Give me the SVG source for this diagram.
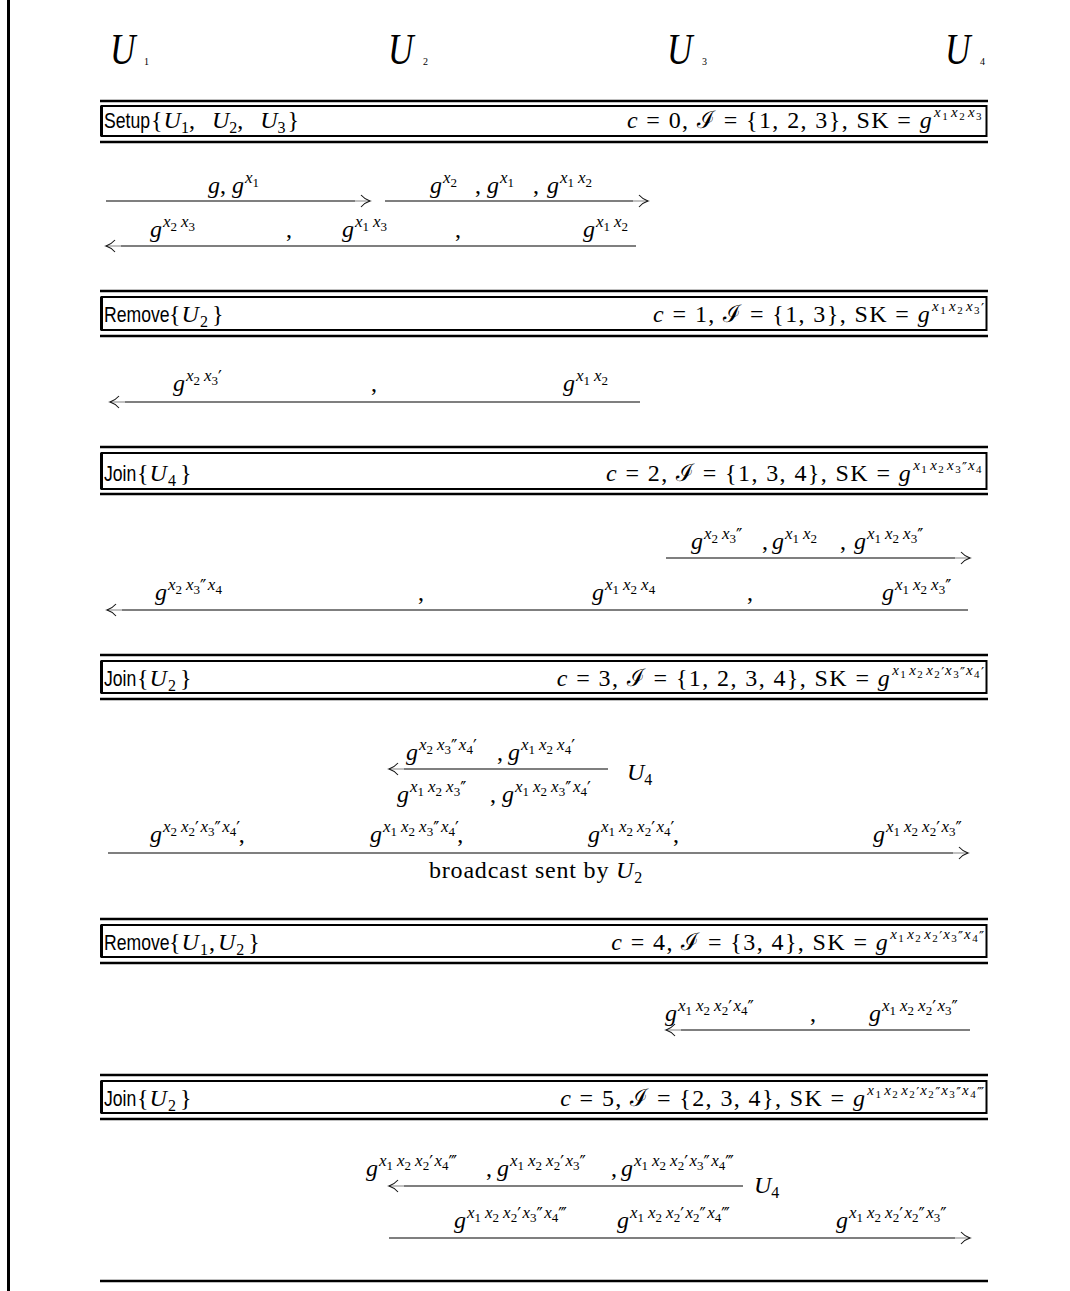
<svg xmlns="http://www.w3.org/2000/svg" width="1070" height="1291" viewBox="0 0 1070 1291">
<style>
.t{font-family:"Liberation Serif","Times New Roman",serif;font-size:24px;font-style:italic;fill:#000}
.r{font-style:normal}
.x{font-size:17px;font-style:italic}
.n{font-size:13px;font-style:normal}
.q{font-size:17px;font-style:normal;font-family:"DejaVu Sans",sans-serif;letter-spacing:-1.5px}
.bx{font-size:15px;font-style:italic}
.bn{font-size:11px;font-style:normal}
.bq{font-size:14px;font-style:normal;font-family:"DejaVu Sans",sans-serif;letter-spacing:-1.2px}
.s16{font-size:16px;font-style:normal}
.sans{font-family:"Liberation Sans",Arial,sans-serif;font-size:22px;fill:#000}
.cal{font-family:"DejaVu Serif",serif;font-style:normal}
.rt{letter-spacing:1.4px}
.lt{letter-spacing:1px}
.rule{stroke:#000;stroke-width:2.5}
.box{fill:none;stroke:#000;stroke-width:2}
.msg{stroke:#000;stroke-width:1.2;fill:none;marker-end:url(#ah)}
</style>
<defs>
<marker id="ah" markerUnits="userSpaceOnUse" markerWidth="20" markerHeight="20" refX="0" refY="0" orient="auto" overflow="visible">
<path d="M-15 0H0" stroke="#fff" stroke-width="1.8"/>
<path d="M-15 0H0" stroke="#999" stroke-width="1.1"/>
<path d="M-9 -6Q-5 -1.5 0 0Q-5 1.5 -9 6" fill="none" stroke="#111" stroke-width="1.1"/>
</marker>
</defs>
<rect width="1070" height="1291" fill="#fff"/>
<line x1="8.5" y1="0" x2="8.5" y2="1291" stroke="#000" stroke-width="3"/>

<g id="U1"><text class="t" transform="matrix(0.8 0 0 1 110 64)" style="font-size:44px">U</text><text class="t r" x="144" y="65" style="font-size:10px">1</text></g>
<g id="U2"><text class="t" transform="matrix(0.8 0 0 1 388 64)" style="font-size:44px">U</text><text class="t r" x="423" y="65" style="font-size:10px">2</text></g>
<g id="U3"><text class="t" transform="matrix(0.8 0 0 1 667 64)" style="font-size:44px">U</text><text class="t r" x="702" y="65" style="font-size:10px">3</text></g>
<g id="U4"><text class="t" transform="matrix(0.8 0 0 1 945 64)" style="font-size:44px">U</text><text class="t r" x="980" y="65" style="font-size:10px">4</text></g>

<g id="setup">
<line class="rule" x1="100" y1="101" x2="988" y2="101"/>
<rect class="box" x="101.5" y="106" width="885" height="30"/>
<line x1="101.5" y1="106" x2="101.5" y2="136" stroke="#000" stroke-width="3"/>
<line class="rule" x1="100" y1="142" x2="988" y2="142"/>
<text class="sans" transform="matrix(0.8 0 0 1 104 128)">Setup</text>
<text class="t" x="151" y="128"><tspan class="r">{</tspan><tspan dx="1">U</tspan><tspan class="s16" dy="5">1</tspan><tspan class="r" dy="-5">, </tspan><tspan dx="11">U</tspan><tspan class="s16" dy="5">2</tspan><tspan class="r" dy="-5">, </tspan><tspan dx="11">U</tspan><tspan class="s16" dy="5">3</tspan><tspan class="r" dy="-5" dx="2">}</tspan></text>
<text class="t rt" text-anchor="end" x="983" y="128">c<tspan class="r"> = 0, </tspan><tspan class="cal">ℐ</tspan><tspan class="r"> = {1, 2, 3}, SK = </tspan>g<tspan class="bx" dx="1" dy="-11">x</tspan><tspan class="bn" dy="3">1</tspan><tspan class="bx" dx="2" dy="-3">x</tspan><tspan class="bn" dy="3">2</tspan><tspan class="bx" dx="2" dy="-3">x</tspan><tspan class="bn" dy="3">3</tspan></text>
</g>

<g id="setup-msgs">
<text class="t" x="208" y="193">g<tspan class="r">, </tspan>g<tspan class="x" dx="1" dy="-10">x</tspan><tspan class="n" dy="4">1</tspan></text>
<text class="t" x="430" y="193">g<tspan class="x" dx="1" dy="-10">x</tspan><tspan class="n" dy="4">2</tspan></text>
<text class="t r" x="475" y="193">,</text>
<text class="t" x="487" y="193">g<tspan class="x" dx="1" dy="-10">x</tspan><tspan class="n" dy="4">1</tspan></text>
<text class="t r" x="533" y="193">,</text>
<text class="t" x="547" y="193">g<tspan class="x" dx="1" dy="-10">x</tspan><tspan class="n" dy="4">1</tspan><tspan class="x" dx="4" dy="-4">x</tspan><tspan class="n" dy="4">2</tspan></text>
<text class="t" x="150" y="237">g<tspan class="x" dx="1" dy="-10">x</tspan><tspan class="n" dy="4">2</tspan><tspan class="x" dx="4" dy="-4">x</tspan><tspan class="n" dy="4">3</tspan></text>
<text class="t r" x="286" y="237">,</text>
<text class="t" x="342" y="237">g<tspan class="x" dx="1" dy="-10">x</tspan><tspan class="n" dy="4">1</tspan><tspan class="x" dx="4" dy="-4">x</tspan><tspan class="n" dy="4">3</tspan></text>
<text class="t r" x="455" y="237">,</text>
<text class="t" x="583" y="237">g<tspan class="x" dx="1" dy="-10">x</tspan><tspan class="n" dy="4">1</tspan><tspan class="x" dx="4" dy="-4">x</tspan><tspan class="n" dy="4">2</tspan></text>
</g>

<g id="remove-u2">
<line class="rule" x1="100" y1="291" x2="988" y2="291"/>
<rect class="box" x="101.5" y="297" width="885" height="33"/>
<line x1="101.5" y1="297" x2="101.5" y2="330" stroke="#000" stroke-width="3"/>
<line class="rule" x1="100" y1="336" x2="988" y2="336"/>
<text class="sans" transform="matrix(0.8 0 0 1 104 322)">Remove</text>
<text class="t lt" x="169" y="322"><tspan class="r">{</tspan>U<tspan class="s16" dy="5">2</tspan><tspan class="r" dy="-5" dx="3">}</tspan></text>
<text class="t rt" text-anchor="end" x="983" y="322">c<tspan class="r"> = 1, </tspan><tspan class="cal">ℐ</tspan><tspan class="r"> = {1, 3}, SK = </tspan>g<tspan class="bx" dx="1" dy="-11">x</tspan><tspan class="bn" dy="3">1</tspan><tspan class="bx" dx="2" dy="-3">x</tspan><tspan class="bn" dy="3">2</tspan><tspan class="bx" dx="2" dy="-3">x</tspan><tspan class="bn" dy="3">3</tspan><tspan class="bq" dy="-1">′</tspan></text>
</g>

<g id="remove-msgs">
<text class="t" x="173" y="391">g<tspan class="x" dx="1" dy="-10">x</tspan><tspan class="n" dy="4">2</tspan><tspan class="x" dx="4" dy="-4">x</tspan><tspan class="n" dy="4">3</tspan><tspan class="q" dy="-2">′</tspan></text>
<text class="t r" x="371" y="391">,</text>
<text class="t" x="563" y="391">g<tspan class="x" dx="1" dy="-10">x</tspan><tspan class="n" dy="4">1</tspan><tspan class="x" dx="4" dy="-4">x</tspan><tspan class="n" dy="4">2</tspan></text>
</g>

<g id="join-u4">
<line class="rule" x1="100" y1="447" x2="988" y2="447"/>
<rect class="box" x="101.5" y="453" width="885" height="36"/>
<line x1="101.5" y1="453" x2="101.5" y2="489" stroke="#000" stroke-width="3"/>
<line class="rule" x1="100" y1="494" x2="988" y2="494"/>
<text class="sans" transform="matrix(0.8 0 0 1 104 481)">Join</text>
<text class="t lt" x="137" y="481"><tspan class="r">{</tspan>U<tspan class="s16" dy="5">4</tspan><tspan class="r" dy="-5" dx="3">}</tspan></text>
<text class="t rt" text-anchor="end" x="983" y="481">c<tspan class="r"> = 2, </tspan><tspan class="cal">ℐ</tspan><tspan class="r"> = {1, 3, 4}, SK = </tspan>g<tspan class="bx" dx="1" dy="-11">x</tspan><tspan class="bn" dy="3">1</tspan><tspan class="bx" dx="2" dy="-3">x</tspan><tspan class="bn" dy="3">2</tspan><tspan class="bx" dx="2" dy="-3">x</tspan><tspan class="bn" dy="3">3</tspan><tspan class="bq" dy="-1">′′</tspan><tspan class="bx" dx="2" dy="-2">x</tspan><tspan class="bn" dy="3">4</tspan></text>
</g>

<g id="join-u4-msgs">
<text class="t" x="691" y="549">g<tspan class="x" dx="1" dy="-10">x</tspan><tspan class="n" dy="4">2</tspan><tspan class="x" dx="4" dy="-4">x</tspan><tspan class="n" dy="4">3</tspan><tspan class="q" dy="-2">′′</tspan></text>
<text class="t r" x="762" y="549">,</text>
<text class="t" x="772" y="549">g<tspan class="x" dx="1" dy="-10">x</tspan><tspan class="n" dy="4">1</tspan><tspan class="x" dx="4" dy="-4">x</tspan><tspan class="n" dy="4">2</tspan></text>
<text class="t r" x="840" y="549">,</text>
<text class="t" x="854" y="549">g<tspan class="x" dx="1" dy="-10">x</tspan><tspan class="n" dy="4">1</tspan><tspan class="x" dx="4" dy="-4">x</tspan><tspan class="n" dy="4">2</tspan><tspan class="x" dx="4" dy="-4">x</tspan><tspan class="n" dy="4">3</tspan><tspan class="q" dy="-2">′′</tspan></text>
<text class="t" x="155" y="600">g<tspan class="x" dx="1" dy="-10">x</tspan><tspan class="n" dy="4">2</tspan><tspan class="x" dx="4" dy="-4">x</tspan><tspan class="n" dy="4">3</tspan><tspan class="q" dy="-2">′′</tspan><tspan class="x" dx="3" dy="-2">x</tspan><tspan class="n" dy="4">4</tspan></text>
<text class="t r" x="418" y="600">,</text>
<text class="t" x="592" y="600">g<tspan class="x" dx="1" dy="-10">x</tspan><tspan class="n" dy="4">1</tspan><tspan class="x" dx="4" dy="-4">x</tspan><tspan class="n" dy="4">2</tspan><tspan class="x" dx="4" dy="-4">x</tspan><tspan class="n" dy="4">4</tspan></text>
<text class="t r" x="747" y="600">,</text>
<text class="t" x="882" y="600">g<tspan class="x" dx="1" dy="-10">x</tspan><tspan class="n" dy="4">1</tspan><tspan class="x" dx="4" dy="-4">x</tspan><tspan class="n" dy="4">2</tspan><tspan class="x" dx="4" dy="-4">x</tspan><tspan class="n" dy="4">3</tspan><tspan class="q" dy="-2">′′</tspan></text>
</g>

<g id="join-u2">
<line class="rule" x1="100" y1="655" x2="988" y2="655"/>
<rect class="box" x="101.5" y="661" width="885" height="32"/>
<line x1="101.5" y1="661" x2="101.5" y2="693" stroke="#000" stroke-width="3"/>
<line class="rule" x1="100" y1="699" x2="988" y2="699"/>
<text class="sans" transform="matrix(0.8 0 0 1 104 686)">Join</text>
<text class="t lt" x="137" y="686"><tspan class="r">{</tspan>U<tspan class="s16" dy="5">2</tspan><tspan class="r" dy="-5" dx="3">}</tspan></text>
<text class="t rt" text-anchor="end" x="983" y="686">c<tspan class="r"> = 3, </tspan><tspan class="cal">ℐ</tspan><tspan class="r"> = {1, 2, 3, 4}, SK = </tspan>g<tspan class="bx" dx="1" dy="-11">x</tspan><tspan class="bn" dy="3">1</tspan><tspan class="bx" dx="2" dy="-3">x</tspan><tspan class="bn" dy="3">2</tspan><tspan class="bx" dx="2" dy="-3">x</tspan><tspan class="bn" dy="3">2</tspan><tspan class="bq" dy="-1">′</tspan><tspan class="bx" dx="2" dy="-2">x</tspan><tspan class="bn" dy="3">3</tspan><tspan class="bq" dy="-1">′′</tspan><tspan class="bx" dx="2" dy="-2">x</tspan><tspan class="bn" dy="3">4</tspan><tspan class="bq" dy="-1">′</tspan></text>
</g>

<g id="join-u2-msgs">
<text class="t" x="406" y="760">g<tspan class="x" dx="1" dy="-10">x</tspan><tspan class="n" dy="4">2</tspan><tspan class="x" dx="4" dy="-4">x</tspan><tspan class="n" dy="4">3</tspan><tspan class="q" dy="-2">′′</tspan><tspan class="x" dx="3" dy="-2">x</tspan><tspan class="n" dy="4">4</tspan><tspan class="q" dy="-2">′</tspan></text>
<text class="t r" x="497" y="760">,</text>
<text class="t" x="508" y="760">g<tspan class="x" dx="1" dy="-10">x</tspan><tspan class="n" dy="4">1</tspan><tspan class="x" dx="4" dy="-4">x</tspan><tspan class="n" dy="4">2</tspan><tspan class="x" dx="4" dy="-4">x</tspan><tspan class="n" dy="4">4</tspan><tspan class="q" dy="-2">′</tspan></text>
<text class="t" x="627" y="780">U<tspan class="s16" dy="5">4</tspan></text>
<text class="t" x="397" y="802">g<tspan class="x" dx="1" dy="-10">x</tspan><tspan class="n" dy="4">1</tspan><tspan class="x" dx="4" dy="-4">x</tspan><tspan class="n" dy="4">2</tspan><tspan class="x" dx="4" dy="-4">x</tspan><tspan class="n" dy="4">3</tspan><tspan class="q" dy="-2">′′</tspan></text>
<text class="t r" x="490" y="802">,</text>
<text class="t" x="502" y="802">g<tspan class="x" dx="1" dy="-10">x</tspan><tspan class="n" dy="4">1</tspan><tspan class="x" dx="4" dy="-4">x</tspan><tspan class="n" dy="4">2</tspan><tspan class="x" dx="4" dy="-4">x</tspan><tspan class="n" dy="4">3</tspan><tspan class="q" dy="-2">′′</tspan><tspan class="x" dx="3" dy="-2">x</tspan><tspan class="n" dy="4">4</tspan><tspan class="q" dy="-2">′</tspan></text>
<text class="t" x="150" y="842">g<tspan class="x" dx="1" dy="-10">x</tspan><tspan class="n" dy="4">2</tspan><tspan class="x" dx="4" dy="-4">x</tspan><tspan class="n" dy="4">2</tspan><tspan class="q" dy="-2">′</tspan><tspan class="x" dx="3" dy="-2">x</tspan><tspan class="n" dy="4">3</tspan><tspan class="q" dy="-2">′′</tspan><tspan class="x" dx="3" dy="-2">x</tspan><tspan class="n" dy="4">4</tspan><tspan class="q" dy="-2">′</tspan><tspan class="r" dy="8">,</tspan></text>
<text class="t" x="370" y="842">g<tspan class="x" dx="1" dy="-10">x</tspan><tspan class="n" dy="4">1</tspan><tspan class="x" dx="4" dy="-4">x</tspan><tspan class="n" dy="4">2</tspan><tspan class="x" dx="4" dy="-4">x</tspan><tspan class="n" dy="4">3</tspan><tspan class="q" dy="-2">′′</tspan><tspan class="x" dx="3" dy="-2">x</tspan><tspan class="n" dy="4">4</tspan><tspan class="q" dy="-2">′</tspan><tspan class="r" dy="8">,</tspan></text>
<text class="t" x="588" y="842">g<tspan class="x" dx="1" dy="-10">x</tspan><tspan class="n" dy="4">1</tspan><tspan class="x" dx="4" dy="-4">x</tspan><tspan class="n" dy="4">2</tspan><tspan class="x" dx="4" dy="-4">x</tspan><tspan class="n" dy="4">2</tspan><tspan class="q" dy="-2">′</tspan><tspan class="x" dx="3" dy="-2">x</tspan><tspan class="n" dy="4">4</tspan><tspan class="q" dy="-2">′</tspan><tspan class="r" dy="8">,</tspan></text>
<text class="t" x="873" y="842">g<tspan class="x" dx="1" dy="-10">x</tspan><tspan class="n" dy="4">1</tspan><tspan class="x" dx="4" dy="-4">x</tspan><tspan class="n" dy="4">2</tspan><tspan class="x" dx="4" dy="-4">x</tspan><tspan class="n" dy="4">2</tspan><tspan class="q" dy="-2">′</tspan><tspan class="x" dx="3" dy="-2">x</tspan><tspan class="n" dy="4">3</tspan><tspan class="q" dy="-2">′′</tspan></text>
<text class="t r" x="429" y="878" style="letter-spacing:0.8px">broadcast sent by <tspan style="font-style:italic">U</tspan><tspan class="s16" dy="5">2</tspan></text>
</g>

<g id="remove-u1-u2">
<line class="rule" x1="100" y1="919" x2="988" y2="919"/>
<rect class="box" x="101.5" y="925" width="885" height="32"/>
<line x1="101.5" y1="925" x2="101.5" y2="957" stroke="#000" stroke-width="3"/>
<line class="rule" x1="100" y1="963" x2="988" y2="963"/>
<text class="sans" transform="matrix(0.8 0 0 1 104 950)">Remove</text>
<text class="t lt" x="169" y="950"><tspan class="r">{</tspan>U<tspan class="s16" dy="5">1</tspan><tspan class="r" dy="-5">,</tspan><tspan dx="2">U</tspan><tspan class="s16" dy="5">2</tspan><tspan class="r" dy="-5" dx="3">}</tspan></text>
<text class="t rt" text-anchor="end" x="983" y="950">c<tspan class="r"> = 4, </tspan><tspan class="cal">ℐ</tspan><tspan class="r"> = {3, 4}, SK = </tspan>g<tspan class="bx" dx="1" dy="-11">x</tspan><tspan class="bn" dy="3">1</tspan><tspan class="bx" dx="2" dy="-3">x</tspan><tspan class="bn" dy="3">2</tspan><tspan class="bx" dx="2" dy="-3">x</tspan><tspan class="bn" dy="3">2</tspan><tspan class="bq" dy="-1">′</tspan><tspan class="bx" dx="2" dy="-2">x</tspan><tspan class="bn" dy="3">3</tspan><tspan class="bq" dy="-1">′′</tspan><tspan class="bx" dx="2" dy="-2">x</tspan><tspan class="bn" dy="3">4</tspan><tspan class="bq" dy="-1">′′</tspan></text>
</g>

<g id="remove-u1-u2-msgs">
<text class="t" x="665" y="1021">g<tspan class="x" dx="1" dy="-10">x</tspan><tspan class="n" dy="4">1</tspan><tspan class="x" dx="4" dy="-4">x</tspan><tspan class="n" dy="4">2</tspan><tspan class="x" dx="4" dy="-4">x</tspan><tspan class="n" dy="4">2</tspan><tspan class="q" dy="-2">′</tspan><tspan class="x" dx="3" dy="-2">x</tspan><tspan class="n" dy="4">4</tspan><tspan class="q" dy="-2">′′</tspan></text>
<text class="t r" x="810" y="1021">,</text>
<text class="t" x="869" y="1021">g<tspan class="x" dx="1" dy="-10">x</tspan><tspan class="n" dy="4">1</tspan><tspan class="x" dx="4" dy="-4">x</tspan><tspan class="n" dy="4">2</tspan><tspan class="x" dx="4" dy="-4">x</tspan><tspan class="n" dy="4">2</tspan><tspan class="q" dy="-2">′</tspan><tspan class="x" dx="3" dy="-2">x</tspan><tspan class="n" dy="4">3</tspan><tspan class="q" dy="-2">′′</tspan></text>
</g>

<g id="join-u2-b">
<line class="rule" x1="100" y1="1075" x2="988" y2="1075"/>
<rect class="box" x="101.5" y="1081" width="885" height="32"/>
<line x1="101.5" y1="1081" x2="101.5" y2="1113" stroke="#000" stroke-width="3"/>
<line class="rule" x1="100" y1="1119" x2="988" y2="1119"/>
<text class="sans" transform="matrix(0.8 0 0 1 104 1106)">Join</text>
<text class="t lt" x="137" y="1106"><tspan class="r">{</tspan>U<tspan class="s16" dy="5">2</tspan><tspan class="r" dy="-5" dx="3">}</tspan></text>
<text class="t rt" text-anchor="end" x="983" y="1106">c<tspan class="r"> = 5, </tspan><tspan class="cal">ℐ</tspan><tspan class="r"> = {2, 3, 4}, SK = </tspan>g<tspan class="bx" dx="1" dy="-11">x</tspan><tspan class="bn" dy="3">1</tspan><tspan class="bx" dx="2" dy="-3">x</tspan><tspan class="bn" dy="3">2</tspan><tspan class="bx" dx="2" dy="-3">x</tspan><tspan class="bn" dy="3">2</tspan><tspan class="bq" dy="-1">′</tspan><tspan class="bx" dx="2" dy="-2">x</tspan><tspan class="bn" dy="3">2</tspan><tspan class="bq" dy="-1">′′</tspan><tspan class="bx" dx="2" dy="-2">x</tspan><tspan class="bn" dy="3">3</tspan><tspan class="bq" dy="-1">′′</tspan><tspan class="bx" dx="2" dy="-2">x</tspan><tspan class="bn" dy="3">4</tspan><tspan class="bq" dy="-1">′′′</tspan></text>
</g>

<g id="join-u2-b-msgs">
<text class="t" x="366" y="1176">g<tspan class="x" dx="1" dy="-10">x</tspan><tspan class="n" dy="4">1</tspan><tspan class="x" dx="4" dy="-4">x</tspan><tspan class="n" dy="4">2</tspan><tspan class="x" dx="4" dy="-4">x</tspan><tspan class="n" dy="4">2</tspan><tspan class="q" dy="-2">′</tspan><tspan class="x" dx="3" dy="-2">x</tspan><tspan class="n" dy="4">4</tspan><tspan class="q" dy="-2">′′′</tspan></text>
<text class="t r" x="486" y="1176">,</text>
<text class="t" x="497" y="1176">g<tspan class="x" dx="1" dy="-10">x</tspan><tspan class="n" dy="4">1</tspan><tspan class="x" dx="4" dy="-4">x</tspan><tspan class="n" dy="4">2</tspan><tspan class="x" dx="4" dy="-4">x</tspan><tspan class="n" dy="4">2</tspan><tspan class="q" dy="-2">′</tspan><tspan class="x" dx="3" dy="-2">x</tspan><tspan class="n" dy="4">3</tspan><tspan class="q" dy="-2">′′</tspan></text>
<text class="t r" x="611" y="1176">,</text>
<text class="t" x="621" y="1176">g<tspan class="x" dx="1" dy="-10">x</tspan><tspan class="n" dy="4">1</tspan><tspan class="x" dx="4" dy="-4">x</tspan><tspan class="n" dy="4">2</tspan><tspan class="x" dx="4" dy="-4">x</tspan><tspan class="n" dy="4">2</tspan><tspan class="q" dy="-2">′</tspan><tspan class="x" dx="3" dy="-2">x</tspan><tspan class="n" dy="4">3</tspan><tspan class="q" dy="-2">′′</tspan><tspan class="x" dx="3" dy="-2">x</tspan><tspan class="n" dy="4">4</tspan><tspan class="q" dy="-2">′′′</tspan></text>
<text class="t" x="754" y="1193">U<tspan class="s16" dy="5">4</tspan></text>
<text class="t" x="454" y="1228">g<tspan class="x" dx="1" dy="-10">x</tspan><tspan class="n" dy="4">1</tspan><tspan class="x" dx="4" dy="-4">x</tspan><tspan class="n" dy="4">2</tspan><tspan class="x" dx="4" dy="-4">x</tspan><tspan class="n" dy="4">2</tspan><tspan class="q" dy="-2">′</tspan><tspan class="x" dx="3" dy="-2">x</tspan><tspan class="n" dy="4">3</tspan><tspan class="q" dy="-2">′′</tspan><tspan class="x" dx="3" dy="-2">x</tspan><tspan class="n" dy="4">4</tspan><tspan class="q" dy="-2">′′′</tspan></text>
<text class="t" x="617" y="1228">g<tspan class="x" dx="1" dy="-10">x</tspan><tspan class="n" dy="4">1</tspan><tspan class="x" dx="4" dy="-4">x</tspan><tspan class="n" dy="4">2</tspan><tspan class="x" dx="4" dy="-4">x</tspan><tspan class="n" dy="4">2</tspan><tspan class="q" dy="-2">′</tspan><tspan class="x" dx="3" dy="-2">x</tspan><tspan class="n" dy="4">2</tspan><tspan class="q" dy="-2">′′</tspan><tspan class="x" dx="3" dy="-2">x</tspan><tspan class="n" dy="4">4</tspan><tspan class="q" dy="-2">′′′</tspan></text>
<text class="t" x="836" y="1228">g<tspan class="x" dx="1" dy="-10">x</tspan><tspan class="n" dy="4">1</tspan><tspan class="x" dx="4" dy="-4">x</tspan><tspan class="n" dy="4">2</tspan><tspan class="x" dx="4" dy="-4">x</tspan><tspan class="n" dy="4">2</tspan><tspan class="q" dy="-2">′</tspan><tspan class="x" dx="3" dy="-2">x</tspan><tspan class="n" dy="4">2</tspan><tspan class="q" dy="-2">′′</tspan><tspan class="x" dx="3" dy="-2">x</tspan><tspan class="n" dy="4">3</tspan><tspan class="q" dy="-2">′′</tspan></text>
</g>

<line class="rule" x1="100" y1="1281" x2="988" y2="1281"/>

<g id="connectors">
<line class="msg" x1="106" y1="201" x2="370" y2="201"/>
<line class="msg" x1="385" y1="201" x2="648" y2="201"/>
<line class="msg" x1="636" y1="246" x2="106" y2="246"/>
<line class="msg" x1="640" y1="402" x2="110" y2="402"/>
<line class="msg" x1="666" y1="558" x2="970" y2="558"/>
<line class="msg" x1="968" y1="610" x2="107" y2="610"/>
<line class="msg" x1="608" y1="769" x2="389" y2="769"/>
<line class="msg" x1="108" y1="853" x2="968" y2="853"/>
<line class="msg" x1="970" y1="1030" x2="666" y2="1030"/>
<line class="msg" x1="743" y1="1186" x2="389" y2="1186"/>
<line class="msg" x1="389" y1="1238" x2="970" y2="1238"/>
</g>
</svg>
